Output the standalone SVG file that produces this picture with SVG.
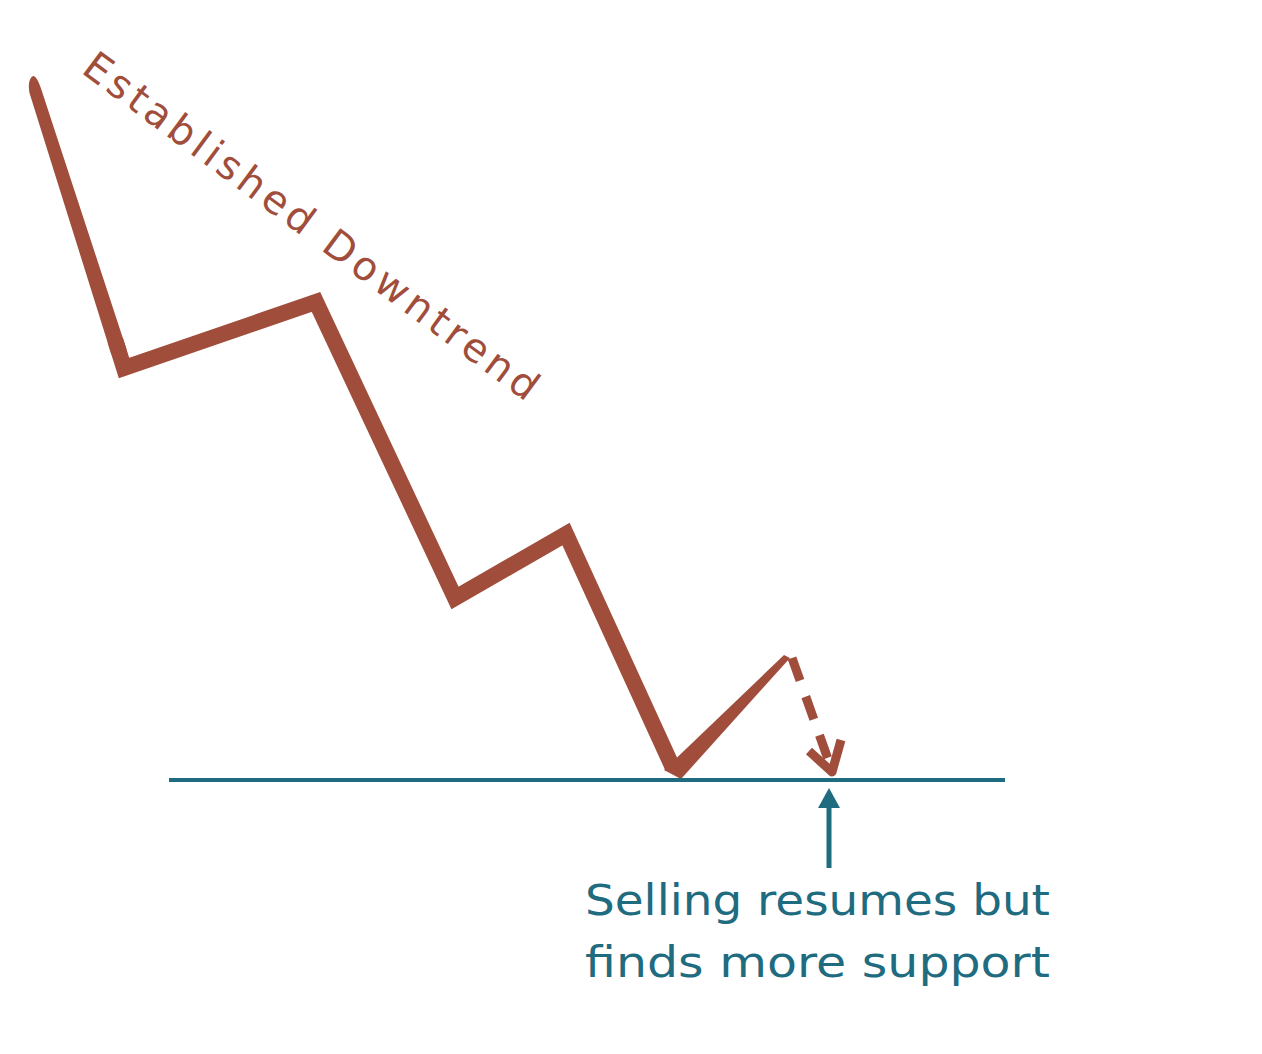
<svg xmlns="http://www.w3.org/2000/svg" width="1262" height="1054" viewBox="0 0 1262 1054">
<style>
.brown{fill:none;stroke:#a04e3b;stroke-linejoin:miter;stroke-linecap:butt}
.teal{stroke:#1f6b7f;fill:none}
.lbl1{font-family:"DejaVu Sans","Liberation Sans",sans-serif;font-size:40px;fill:#a04e3b}
.lbl2{font-family:"DejaVu Sans","Liberation Sans",sans-serif;font-size:42px;fill:#1f6b7f}
</style>
<rect width="1262" height="1054" fill="#ffffff"/>
<g id="trend">
<path d="M33,76 C29,78 28,86 29.5,93 L111.4,354.4 L126.6,349.6 L41.5,90 C39,82 36,76 33,76 Z" fill="#a04e3b"/>
<polyline class="brown" stroke-width="16" points="115.2,340 124,368 316,302 455,598 566,534 673,768"/>
<path d="M664,770 L681,779 L790,658 L784,655 Z" fill="#a04e3b"/>
</g>
<g id="support">
<line class="teal" x1="169" y1="780" x2="1005" y2="780" stroke-width="4"/>
</g>
<g id="title">
<text class="lbl1" transform="translate(80,72) rotate(36.5)" textLength="555" lengthAdjust="spacing">Established Downtrend</text>
</g>
<g id="note">
<text class="lbl2" x="585" y="915" textLength="465" lengthAdjust="spacingAndGlyphs">Selling resumes but</text>
<text class="lbl2" x="585" y="977" textLength="465" lengthAdjust="spacingAndGlyphs">finds more support</text>
</g>
<g id="connectors">
<line x1="792" y1="658" x2="829" y2="762" stroke="#a04e3b" stroke-width="9" stroke-dasharray="24,17"/>
<polyline points="809,751 832,772 841,740" fill="none" stroke="#a04e3b" stroke-width="9" stroke-linejoin="round" stroke-linecap="butt"/>
<line class="teal" x1="829" y1="868" x2="829" y2="806" stroke-width="5"/>
<polygon points="829,788 818,808 840,808" fill="#1f6b7f"/>
</g>
</svg>
